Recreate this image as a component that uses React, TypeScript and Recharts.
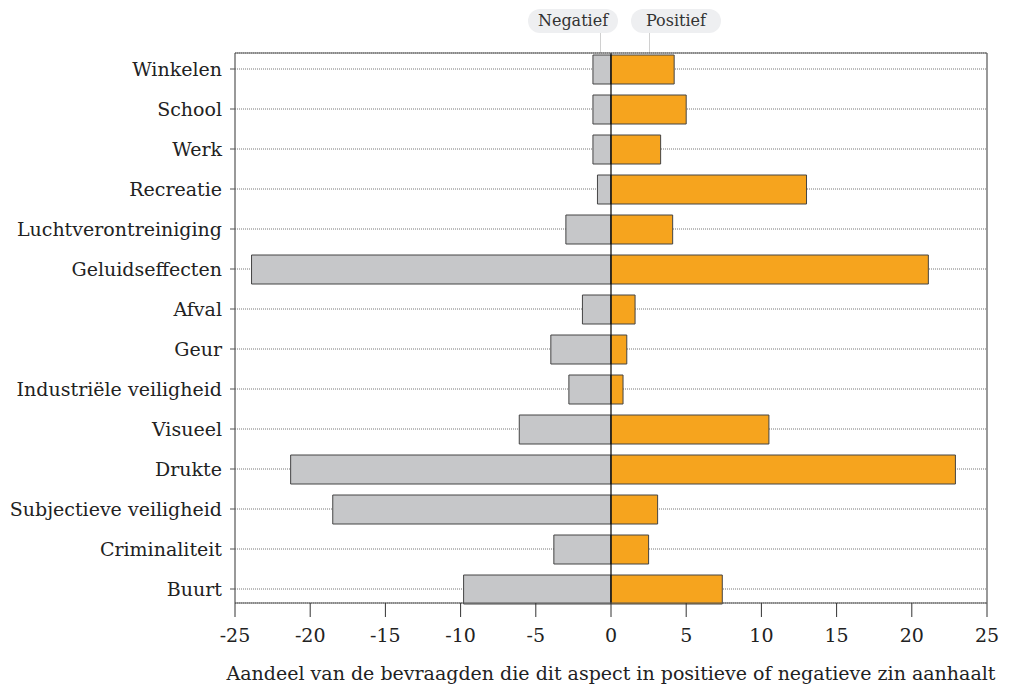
import React from "react";
import {
  BarChart,
  Bar,
  XAxis,
  YAxis,
  CartesianGrid,
  ReferenceLine,
} from "recharts";

const categories = [
  "Winkelen",
  "School",
  "Werk",
  "Recreatie",
  "Luchtverontreiniging",
  "Geluidseffecten",
  "Afval",
  "Geur",
  "Industriële veiligheid",
  "Visueel",
  "Drukte",
  "Subjectieve veiligheid",
  "Criminaliteit",
  "Buurt",
];

const negatief = [-1.2, -1.2, -1.2, -0.9, -3.0, -23.9, -1.9, -4.0, -2.8, -6.1, -21.3, -18.5, -3.8, -9.8];
const positief = [4.2, 5.0, 3.3, 13.0, 4.1, 21.1, 1.6, 1.05, 0.8, 10.5, 22.9, 3.1, 2.5, 7.4];

const xTicks = [-25, -20, -15, -10, -5, 0, 5, 10, 15, 20, 25];

const data = categories.map((name, i) => ({
  name,
  neg: negatief[i],
  pos: positief[i],
}));

const FONT = "'DejaVu Serif', serif";
const GREY = "#c6c7c9";
const ORANGE = "#f6a41e";
const FRAME = "#555";

const pill: React.CSSProperties = {
  position: "absolute",
  top: 9,
  height: 24,
  lineHeight: "24px",
  background: "#eeeff1",
  borderRadius: 12,
  fontFamily: FONT,
  fontSize: 16,
  color: "#333",
  textAlign: "center",
};

export default function App() {
  return (
    <div style={{ position: "absolute", left: 0, top: 0, width: 1009, height: 684, background: "#fff" }}>
      <div style={{ ...pill, left: 528, width: 90 }}>Negatief</div>
      <div style={{ ...pill, left: 631, width: 90 }}>Positief</div>
      <div style={{ position: "absolute", left: 600, top: 33, width: 1, height: 20, background: "#d0d0d0" }} />
      <div style={{ position: "absolute", left: 649, top: 33, width: 1, height: 20, background: "#d0d0d0" }} />
      <BarChart
        width={1009}
        height={684}
        data={data}
        layout="vertical"
        stackOffset="sign"
        margin={{ top: 52, right: 21, bottom: 0, left: 0 }}
        style={{ fontFamily: FONT }}
      >
        <CartesianGrid horizontal vertical={false} stroke="#777" strokeDasharray="1 1" />
        <XAxis
          type="number"
          domain={[-25, 25]}
          ticks={xTicks}
          interval={0}
          height={81}
          axisLine={{ stroke: FRAME, strokeWidth: 1.2 }}
          tickLine={{ stroke: "#333" }}
          tickSize={14}
          tickMargin={12}
          tick={{ fill: "#222", fontSize: 19, fontFamily: FONT }}
          label={{
            value: "Aandeel van de bevraagden die dit aspect in positieve of negatieve zin aanhaalt",
            position: "insideBottom",
            offset: 4,
            fill: "#222",
            fontSize: 19,
            fontFamily: FONT,
          }}
        />
        <XAxis
          xAxisId="top"
          orientation="top"
          type="number"
          domain={[-25, 25]}
          height={1}
          tick={false}
          tickLine={false}
          axisLine={{ stroke: FRAME, strokeWidth: 1.2 }}
        />
        <YAxis
          type="category"
          dataKey="name"
          width={235}
          padding={{ top: -4, bottom: -6 }}
          axisLine={{ stroke: FRAME, strokeWidth: 1.2 }}
          tickLine={{ stroke: "#555" }}
          tickSize={5}
          tickMargin={8}
          interval={0}
          tick={{ fill: "#222", fontSize: 19, fontFamily: FONT }}
        />
        <YAxis
          yAxisId="right"
          orientation="right"
          type="category"
          dataKey="name"
          width={1}
          tick={false}
          tickLine={false}
          axisLine={{ stroke: FRAME, strokeWidth: 1.2 }}
        />
        <Bar dataKey="neg" stackId="a" fill={GREY} stroke="#444" strokeWidth={1} barSize={29} isAnimationActive={false} />
        <Bar dataKey="pos" stackId="a" fill={ORANGE} stroke="#444" strokeWidth={1} barSize={29} isAnimationActive={false} />
        <ReferenceLine x={0} stroke="#000" strokeWidth={1.2} ifOverflow="hidden" />
      </BarChart>
    </div>
  );
}
